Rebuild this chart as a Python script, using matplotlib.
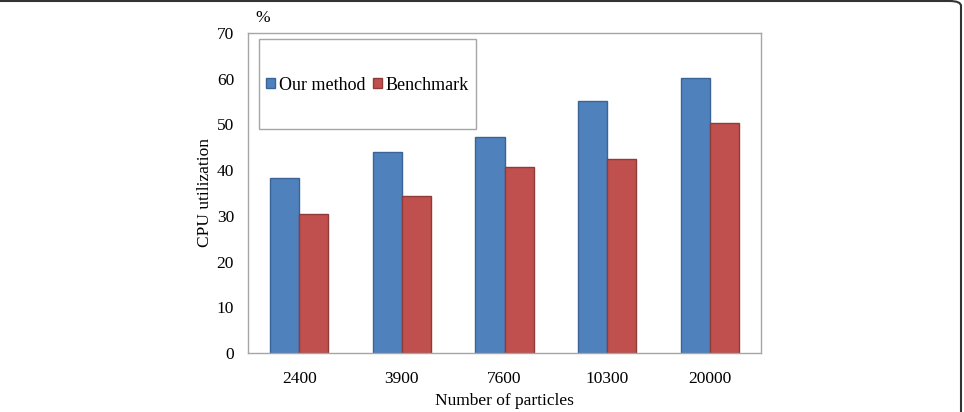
import matplotlib.pyplot as plt
import numpy as np
from matplotlib.patches import FancyBboxPatch, Rectangle

plt.rcParams.update({
    "font.family": "Liberation Serif",
    "font.size": 12.5,
})

particles = ['2400', '3900', '7600', '10300', '20000']
our_method = [38.2, 44.0, 47.3, 55.1, 60.1]
benchmark = [30.4, 34.3, 40.6, 42.4, 50.4]
yticks = [0, 10, 20, 30, 40, 50, 60, 70]

fig = plt.figure(figsize=(9.64, 4.12), dpi=100)
ax = fig.add_axes([248/964, 1 - 353/412, (761-248)/964, (353-33)/412])

x = np.arange(len(particles))
w = 0.283
ax.bar(x - w/2, our_method, w, color='#4F81BD', edgecolor='#3A6397', linewidth=1, label='Our method')
ax.bar(x + w/2, benchmark, w, color='#C0504D', edgecolor='#8E3B39', linewidth=1, label='Benchmark')

ax.set_xlim(-0.5, len(particles) - 0.5)
ax.set_ylim(0, 70)
ax.set_yticks(yticks)
ax.set_xticks(x)
ax.set_xticklabels(particles)
ax.tick_params(length=0)
ax.tick_params(axis='x', pad=13)
ax.tick_params(axis='y', pad=10)
for s in ax.spines.values():
    s.set_color('#A6A6A6')
    s.set_linewidth(1)

ax.set_xlabel('Number of particles', labelpad=4)
ax.set_ylabel('CPU utilization', labelpad=3)
fig.text(263/964, 1 - 18/412, '%', ha='center', va='center', fontsize=12.5)

# legend box drawn separately, legend itself frameless inside it
box = Rectangle((259/964, 1 - 129/412), (476-259)/964, (129-39)/412,
                transform=fig.transFigure, facecolor='white',
                edgecolor='#A6A6A6', linewidth=1, zorder=5)
fig.patches.append(box)
leg = fig.legend(loc='center left', bbox_to_anchor=(266/964, 1 - 85/412),
                 ncol=2, frameon=False, fontsize=13, handlelength=0.5,
                 handleheight=0.5, handletextpad=0.2, columnspacing=0.45,
                 borderaxespad=0, borderpad=0)
leg.set_zorder(6)

# figure border (top and right)
border = FancyBboxPatch((-0.05, -0.05), 961/964 + 0.05, 1 - 1/412 + 0.05,
                        boxstyle='round,pad=0,rounding_size=0.012',
                        transform=fig.transFigure, fill=False,
                        edgecolor='#333333', linewidth=1.5)
fig.patches.append(border)

fig.savefig('out.png', dpi=100)
